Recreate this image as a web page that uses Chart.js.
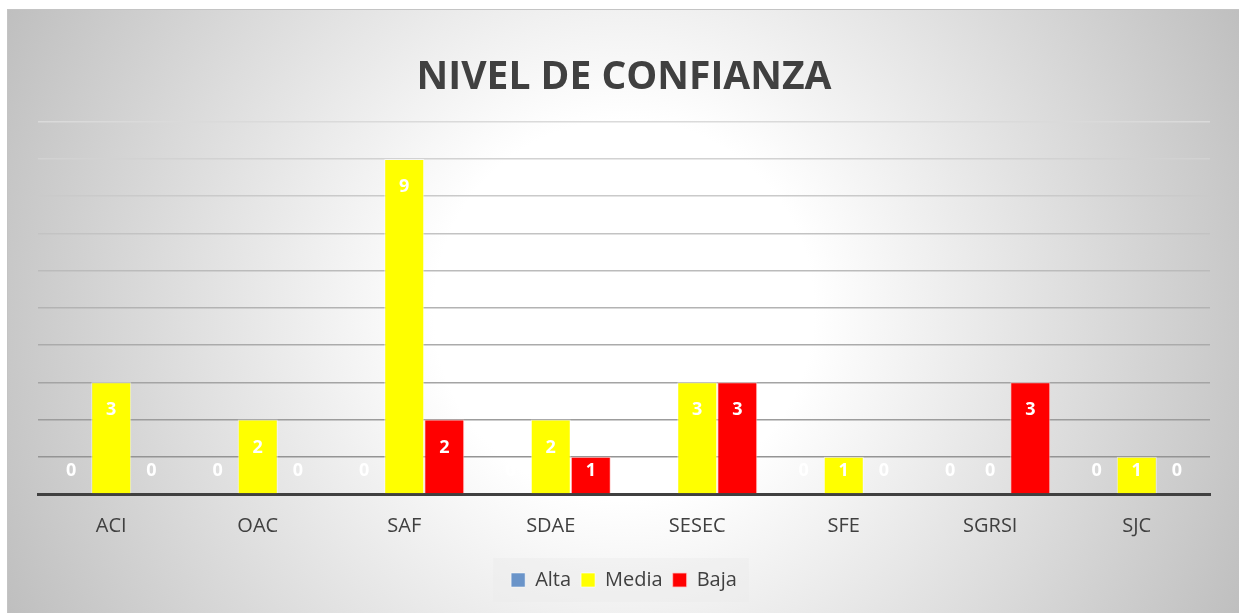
<!DOCTYPE html>
<html>
<head>
<meta charset="utf-8">
<script src="https://cdn.jsdelivr.net/npm/chart.js@4.4.0/dist/chart.umd.min.js"></script>
<style>
  html, body { margin: 0; padding: 0; background: #ffffff; }
  #wrap {
    position: absolute; left: 7px; top: 9px; width: 1232px; height: 604px;
    border-top: 1px solid #c4c4c4; border-left: 1px solid #c4c4c4;
    background: radial-gradient(circle 700px at 616px 300px, #ffffff 0px, #ffffff 190px, #bdbdbd 700px);
  }
  canvas { display: block; }
</style>
</head>
<body>
<div id="wrap"><canvas id="c" width="1231" height="603"></canvas></div>
<script>
const categories = ['ACI', 'OAC', 'SAF', 'SDAE', 'SESEC', 'SFE', 'SGRSI', 'SJC'];
const seriesNames = ['Alta', 'Media', 'Baja'];
const alta  = [0, 0, 0, 0, 0, 0, 0, 0];
const media = [3, 2, 9, 2, 3, 1, 0, 1];
const baja  = [0, 0, 2, 1, 3, 0, 3, 0];
const yTicks = [0, 1, 2, 3, 4, 5, 6, 7, 8, 9, 10];

const TEXT = '#404040';
const FONT = '"Open Sans", "Noto Sans", sans-serif';

const valueLabels = {
  id: 'valueLabels',
  afterDatasetsDraw(chart) {
    const ctx = chart.ctx;
    const ys = chart.scales.y;
    ctx.save();
    ctx.font = 'bold 18px ' + FONT;
    ctx.fillStyle = '#ffffff';
    ctx.textAlign = 'center';
    ctx.textBaseline = 'middle';
    chart.data.datasets.forEach((ds, i) => {
      const meta = chart.getDatasetMeta(i);
      meta.data.forEach((bar, j) => {
        const v = ds.data[j];
        const yy = Math.min(ys.getPixelForValue(v) + 28, ys.getPixelForValue(0) - 23);
        ctx.fillText(String(v), bar.x, yy);
      });
    });
    ctx.restore();
  }
};

const legendBox = {
  id: 'legendBox',
  beforeDraw(chart) {
    const lg = chart.legend;
    if (!lg || !lg.legendHitBoxes || !lg.legendHitBoxes.length) return;
    const hb = lg.legendHitBoxes;
    const x0 = hb[0].left - 18;
    const x1 = hb[hb.length - 1].left + hb[hb.length - 1].width + 12;
    const cy = hb[0].top + hb[0].height / 2;
    const ctx = chart.ctx;
    ctx.save();
    ctx.fillStyle = 'rgba(235,235,235,0.45)';
    ctx.fillRect(x0, cy - 22, x1 - x0, 44);
    ctx.restore();
  }
};

function gridColor(v) {
  // lighter near the top, darker near the bottom
  const t = (v - 1) / 9;
  const c = Math.round(148 + t * (218 - 148));
  return 'rgb(' + c + ',' + c + ',' + c + ')';
}

new Chart(document.getElementById('c'), {
  type: 'bar',
  data: {
    labels: categories,
    datasets: [
      { label: seriesNames[0], data: alta,  backgroundColor: '#6a94c9', borderColor: 'rgba(255,255,255,0.5)', borderWidth: 1 },
      { label: seriesNames[1], data: media, backgroundColor: '#ffff00', borderColor: 'rgba(255,255,255,0.6)', borderWidth: 1 },
      { label: seriesNames[2], data: baja,  backgroundColor: '#ff0000', borderColor: 'rgba(255,200,200,0.8)', borderWidth: 1 }
    ]
  },
  plugins: [legendBox, valueLabels],
  options: {
    responsive: false,
    animation: false,
    devicePixelRatio: 1,
    layout: { padding: { left: 30, right: 29, top: 0, bottom: 13 } },
    datasets: { bar: { categoryPercentage: 0.82, barPercentage: 1.0 } },
    scales: {
      x: {
        grid: { display: true, color: 'rgba(0,0,0,0)', drawTicks: false },
        border: { display: true, color: TEXT, width: 3 },
        ticks: { color: TEXT, font: { family: FONT, size: 20 }, padding: 20 },
        afterFit(scale) { scale.height = 66; }
      },
      y: {
        min: 0, max: 10,
        afterBuildTicks(scale) { scale.ticks = yTicks.map(v => ({ value: v })); },
        grid: {
          drawTicks: false,
          lineWidth: 1.5,
          color(ctx) { return ctx.tick ? gridColor(ctx.tick.value) : '#aaa'; }
        },
        border: { display: false },
        ticks: { display: false }
      }
    },
    plugins: {
      title: {
        display: true,
        text: 'NIVEL DE CONFIANZA',
        color: TEXT,
        font: { family: FONT, size: 39, weight: 'bold', lineHeight: 1.2 },
        padding: { top: 44, bottom: 21 }
      },
      legend: {
        position: 'bottom',
        labels: {
          color: TEXT,
          font: { family: FONT, size: 20 },
          boxWidth: 14, boxHeight: 14,
          padding: 10
        }
      },
      tooltip: { enabled: false }
    }
  }
});
</script>
</body>
</html>
